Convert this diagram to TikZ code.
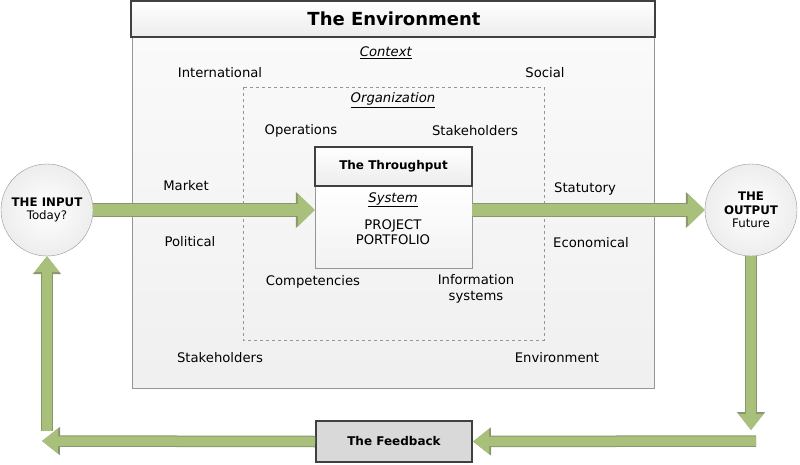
\documentclass[tikz,border=0pt]{standalone}
\usepackage{fontspec}
\setmainfont{DejaVu Sans}
\usetikzlibrary{arrows.meta}
\definecolor{arrowgreen}{RGB}{169,192,122}
\definecolor{arrowedge}{RGB}{138,150,110}
\definecolor{darkline}{RGB}{64,64,64}
\definecolor{softline}{RGB}{150,150,150}
\definecolor{feedgrey}{RGB}{217,217,217}
\tikzset{
  label/.style={
    font=\fontsize{13.2}{15.5}\selectfont,
    align=center
  },
  heading/.style={
    font=\bfseries\fontsize{12}{14}\selectfont
  },
  bubble/.style={
    shape = circle,
    draw = softline,
    inner color = white,
    outer color = gray!14,
    minimum size = 92pt,
    inner sep = 0pt,
    align = center,
    font = \fontsize{11.8}{13.5}\selectfont
  },
  headbox/.style={
    draw = darkline,
    line width = 2pt,
    top color = white,
    bottom color = gray!15
  },
  fatback/.style={
    draw = arrowedge,
    line width = 14pt,
    -{Triangle[width=35pt,length=19pt]}
  },
  fatfront/.style={
    draw = arrowgreen,
    line width = 12pt,
    -{Triangle[width=32pt,length=17pt]}
  },
  thinback/.style={
    draw = arrowedge,
    line width = 11.5pt,
    -{Triangle[width=27pt,length=18pt]}
  },
  thinfront/.style={
    draw = arrowgreen,
    line width = 9.5pt,
    -{Triangle[width=24pt,length=16pt]}
  }
}

\begin{document}
\begin{tikzpicture}[x=1pt,y=-1pt]
  \useasboundingbox (0,0) rectangle (800,465);
  % the environment
  \draw[softline, top color=gray!4, bottom color=gray!12] (132,37) rectangle (654,388);
  \draw[headbox] (131,1) rectangle (655,37);
  \node[font=\bfseries\fontsize{18}{20}\selectfont] (envtitle) at (394,19) {The Environment};
  \node[label] (context) at (386,53) {\underline{\textit{Context}}};
  \node[label] (intl) at (220,73) {International};
  \node[label] (social) at (545,73) {Social};
  \node[label] (market) at (186,186) {Market};
  \node[label] (political) at (190,242) {Political};
  \node[label] (statutory) at (585,189) {Statutory};
  \node[label] (economical) at (591,243) {Economical};
  \node[label] (ctxstake) at (220,358) {Stakeholders};
  \node[label] (environment) at (557,358) {Environment};
  % the organization
  \draw[softline, dashed] (243,87) rectangle (544,340);
  \node[label] (orga) at (393,100) {\underline{\textit{Organization}}};
  \node[label] (operations) at (301,131) {Operations};
  \node[label] (orgstake) at (475,131) {Stakeholders};
  \node[label] (competencies) at (313,282) {Competencies};
  \node[label] (infosys) at (476,289) {Information\\systems};
  % the throughput
  \node[draw=softline, top color=white, bottom color=gray!10,
        minimum width=157pt, minimum height=82pt] (thru) at (393.5,227) {};
  \node[headbox, minimum width=157pt, minimum height=39pt] (thrutitle) at (393.5,166.5) {};
  \node[heading] at (thrutitle) {The Throughput};
  \node[label] (system) at (393,200) {\underline{\textit{System}}};
  \node[label] (portfolio) at (393,232) {PROJECT\\PORTFOLIO};
  % input, output, feedback
  \node[bubble] (inp) at (47,210) {\textbf{THE INPUT}\\Today?};
  \node[bubble] (out) at (751,210) {\textbf{THE}\\\textbf{OUTPUT}\\Future};
  \node[headbox, top color=feedgrey, bottom color=feedgrey,
        minimum width=156pt, minimum height=41pt] (feed) at (394,441.5) {};
  \node[heading] at (feed) {The Feedback};
  \coordinate (downend) at (751,430);
  \coordinate (backstart) at (756,441);
  \coordinate (leftend) at (42,441);
  \coordinate (upstart) at (47,431);
  % arrows
  \draw[fatback] (inp.east) -- (inp.east -| thru.west);
  \draw[fatfront] (inp.east) -- (inp.east -| thru.west);
  \draw[fatback] (thru.east |- out.west) -- (out.west);
  \draw[fatfront] (thru.east |- out.west) -- (out.west);
  \foreach \a/\b in {out.south/downend, backstart/feed.east, feed.west/leftend, upstart/inp.south}{
    \draw[thinback] (\a) -- (\b);
    \draw[thinfront] (\a) -- (\b);
  }
\end{tikzpicture}
\end{document}
